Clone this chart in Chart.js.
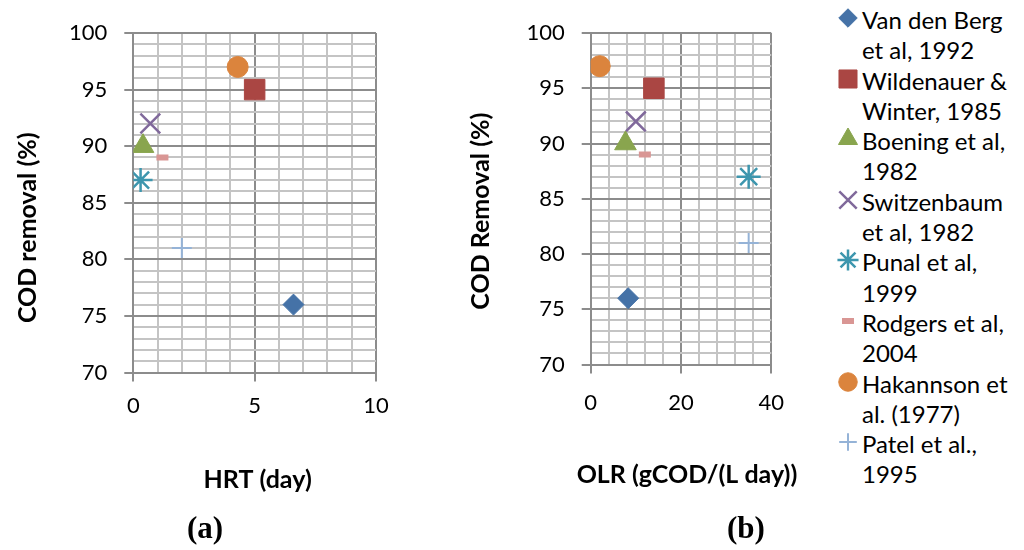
<!DOCTYPE html>
<html>
<head>
<meta charset="utf-8">
<script src="https://cdn.jsdelivr.net/npm/chart.js@4.4.0/dist/chart.umd.min.js"></script>
<style>
  body { margin: 0; background: #fff; }
  #page { position: relative; width: 1024px; height: 550px; overflow: hidden; font-family: Lato, sans-serif; }
  .box { position: absolute; top: 0; height: 550px; }
  .panel { position: absolute; font-family: "Liberation Serif", serif; font-weight: bold; font-size: 31px; width: 60px; text-align: center; line-height: 30px; }
  #legend { position: absolute; left: 836px; top: 5px; width: 190px; font-size: 24px; line-height: 30.3px; color: #000; white-space: nowrap; }
  .item { position: relative; padding-left: 26px; }
  .item canvas { position: absolute; left: 0; top: 0; }
</style>
</head>
<body>
<div id="page">
  <div class="box" style="left:0;width:400px"><canvas id="chartA"></canvas></div>
  <div class="box" style="left:440px;width:360px"><canvas id="chartB"></canvas></div>
  <div class="panel" style="left:175px;top:513px">(a)</div>
  <div class="panel" style="left:716px;top:513px">(b)</div>
  <div id="legend"></div>
</div>
<script>
// Data
const studies = ['Van den Berg et al, 1992', 'Wildenauer & Winter, 1985', 'Boening et al, 1982',
    'Switzenbaum et al, 1982', 'Punal et al, 1999', 'Rodgers et al, 2004',
    'Hakannson et al. (1977)', 'Patel et al., 1995'];
const legendLines = [
    ['Van den Berg', 'et al, 1992'],
    ['Wildenauer &', 'Winter, 1985'],
    ['Boening et al,', '1982'],
    ['Switzenbaum', 'et al, 1982'],
    ['Punal et al,', '1999'],
    ['Rodgers et al,', '2004'],
    ['Hakannson et', 'al. (1977)'],
    ['Patel et al.,', '1995']
];
const hrtDays = [6.6, 5, 0.4, 0.7, 0.3, 1.2, 4.3, 2];
const olrValues = [8.3, 14, 7.7, 10, 35, 12, 2, 35];
const codRemoval = [76, 95, 90, 92, 87, 89, 97, 81];

// Marker look per study
const colors = ['#4572A7', '#AA4643', '#89A54E', '#80699B', '#3D96AE', '#D99694', '#DB843D', '#95B3D7'];
const shapes = ['rectRot', 'rect', 'triangle', 'crossRot', 'star', 'line', 'circle', 'cross'];
const radii = [10.5, 14.5, 12.5, 14, 12, 6, 10.5, 10];
const strokes = [1, 1, 1, 2.5, 2.5, 6, 1, 2];

const MAJOR = '#8C8C8C';
const MINOR = '#C4C4C4';
const FONT = 'Lato';

// x axis caption drawn under the axis; the built-in title gets squeezed
// to the plot width, and the OLR caption is wider than its plot
const xCaption = {
    id: 'xCaption',
    afterDraw(chart, args, opts) {
        const { ctx, chartArea } = chart;
        ctx.save();
        ctx.font = 'bold 25px ' + FONT;
        ctx.fillStyle = '#000';
        ctx.textAlign = 'center';
        ctx.textBaseline = 'middle';
        ctx.fillText(opts.text, (chartArea.left + chartArea.right) / 2 + opts.dx, opts.y);
        ctx.restore();
    }
};

function makeDatasets(xs) {
    return studies.map((name, i) => ({
        label: name,
        data: [{ x: xs[i], y: codRemoval[i] }],
        pointStyle: shapes[i],
        pointRadius: radii[i],
        pointHoverRadius: radii[i],
        backgroundColor: colors[i],
        borderColor: colors[i],
        pointBorderWidth: strokes[i],
        showLine: false
    }));
}

function gridFor(majorStep) {
    const isMajor = v => Math.abs(v % majorStep) < 1e-9;
    return {
        color: c => (c.tick && isMajor(c.tick.value)) ? MAJOR : MINOR,
        tickColor: c => (c.tick && isMajor(c.tick.value)) ? MAJOR : 'rgba(0,0,0,0)',
        lineWidth: 2,
        tickWidth: 2,
        tickLength: 9
    };
}

function makeChart(id, xs, cfg) {
    const ctx = document.getElementById(id).getContext('2d');
    return new Chart(ctx, {
        type: 'scatter',
        data: { datasets: makeDatasets(xs) },
        plugins: [xCaption],
        options: {
            responsive: true,
            maintainAspectRatio: false,
            animation: false,
            layout: { padding: { left: 0, top: cfg.top, right: cfg.right, bottom: 0 } },
            plugins: {
                legend: { display: false },
                tooltip: { enabled: false },
                xCaption: { text: cfg.xTitle, y: cfg.xTitleY, dx: cfg.xTitleDx }
            },
            scales: {
                x: {
                    type: 'linear',
                    min: 0, max: cfg.xMax,
                    grid: gridFor(cfg.xMajor),
                    border: { color: MAJOR, width: 2 },
                    ticks: {
                        stepSize: cfg.xStep,
                        autoSkip: false,
                        maxRotation: 0,
                        padding: cfg.xTickPad,
                        color: '#000',
                        font: { family: FONT, size: 22 },
                        callback: v => (v % cfg.xMajor === 0 ? v : '')
                    },
                    afterFit: s => { s.height = cfg.xHeight; }
                },
                y: {
                    min: 70, max: 100,
                    grid: gridFor(5),
                    border: { color: MAJOR, width: 2 },
                    ticks: {
                        stepSize: 1,
                        autoSkip: false,
                        padding: 17,
                        color: '#000',
                        font: { family: FONT, size: 22 },
                        callback: v => (v % 5 === 0 ? v : '')
                    },
                    title: {
                        display: true,
                        // trailing spaces nudge the centred title downwards like the original
                        text: cfg.yTitle,
                        color: '#000',
                        font: { family: FONT, size: 25, weight: 'bold' },
                        padding: { top: cfg.yTitlePad, bottom: 0 }
                    },
                    afterFit: s => { s.width = cfg.yWidth; }
                }
            }
        }
    });
}

makeChart('chartA', hrtDays, {
    top: 33, right: 24, xMax: 10, xStep: 1, xMajor: 5,
    xTitle: 'HRT (day)', xTitleY: 480, xTitleDx: 3,
    yTitle: 'COD removal (%)\u2003\u2003\u2002',
    xHeight: 177.5, xTickPad: 11,
    yWidth: 133.3, yTitlePad: 13
});

makeChart('chartB', olrValues, {
    top: 33, right: 21, xMax: 40, xStep: 4, xMajor: 20,
    xTitle: 'OLR (gCOD/(L day))', xTitleY: 475, xTitleDx: 6,
    yTitle: 'COD Removal (%)\u2003 ',
    xHeight: 185.5, xTickPad: 16,
    yWidth: 150.7, yTitlePad: 26
});

// HTML legend, markers drawn with Chart.js point drawing
function drawMarker(g, i) {
    const r = shapes[i] === 'line' ? radii[i] : radii[i] * 0.88;
    const opts = {
        pointStyle: shapes[i], rotation: 0, radius: r,
        borderWidth: strokes[i], backgroundColor: colors[i], borderColor: colors[i]
    };
    g.fillStyle = colors[i];
    g.strokeStyle = colors[i];
    g.lineWidth = strokes[i];
    if (Chart.helpers && Chart.helpers.drawPoint) {
        Chart.helpers.drawPoint(g, opts, 12, 13);
    } else {
        const P = Chart.PointElement || (Chart.elements && Chart.elements.PointElement);
        const pt = new P({ x: 12, y: 13, options: opts });
        pt.draw(g, { left: 0, top: 0, right: 26, bottom: 26 });
    }
}

const legendEl = document.getElementById('legend');
studies.forEach((name, i) => {
    const item = document.createElement('div');
    item.className = 'item';
    const c = document.createElement('canvas');
    c.width = 26; c.height = 26;
    c.style.width = '26px'; c.style.height = '26px';
    item.appendChild(c);
    item.appendChild(document.createTextNode(legendLines[i][0]));
    item.appendChild(document.createElement('br'));
    item.appendChild(document.createTextNode(legendLines[i][1]));
    legendEl.appendChild(item);
    drawMarker(c.getContext('2d'), i);
});
</script>
</body>
</html>
